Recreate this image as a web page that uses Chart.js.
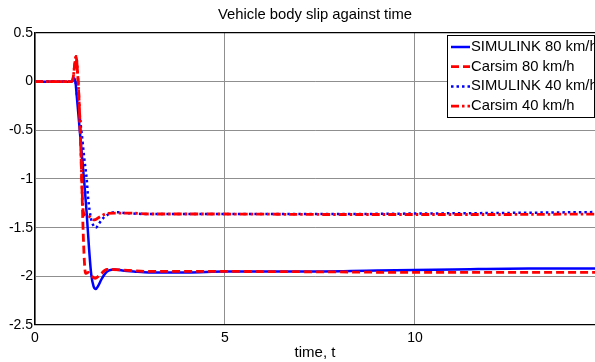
<!DOCTYPE html>
<html>
<head>
<meta charset="utf-8">
<script src="https://cdn.jsdelivr.net/npm/chart.js@4.4.1/dist/chart.umd.min.js"></script>
<style>
  html, body { margin: 0; padding: 0; background: #fff; }
  #wrap { width: 595px; height: 362px; }
</style>
</head>
<body>
<div id="wrap"><canvas id="slipChart"></canvas></div>
<script>
// values
const timeSim80 = [0, 0.95, 1.02, 1.05, 1.1, 1.2, 1.3, 1.36, 1.42, 1.48, 1.54, 1.6, 1.66, 1.75, 1.85, 1.95, 2.1, 2.3, 2.6, 3, 4, 5, 7, 9, 11, 13, 14.74];
const slipSim80 = [0, 0, 0.02, 0.03, -0.15, -0.6, -1.05, -1.35, -1.7, -1.98, -2.1, -2.13, -2.1, -2.03, -1.97, -1.94, -1.93, -1.94, -1.95, -1.96, -1.96, -1.95, -1.95, -1.94, -1.93, -1.92, -1.92];

const timeCar80 = [0, 0.95, 1.0, 1.05, 1.08, 1.12, 1.16, 1.2, 1.23, 1.26, 1.3, 1.33, 1.4, 1.48, 1.58, 1.7, 1.89, 2.05, 2.5, 3, 5, 8, 10, 12, 14.74];
const slipCar80 = [0, 0, 0.03, 0.19, 0.26, 0.1, -0.2, -0.6, -1.0, -1.45, -1.85, -1.97, -1.96, -1.99, -2.02, -1.99, -1.93, -1.93, -1.94, -1.95, -1.95, -1.955, -1.96, -1.96, -1.96];

const timeSim40 = [0, 0.95, 1.02, 1.05, 1.1, 1.22, 1.3, 1.36, 1.4, 1.47, 1.54, 1.6, 1.68, 1.8, 1.95, 2.1, 2.4, 3, 5, 8, 10, 12, 14.74];
const slipSim40 = [0, 0, 0.02, 0.03, -0.12, -0.5, -0.8, -1.0, -1.2, -1.4, -1.48, -1.5, -1.46, -1.4, -1.36, -1.34, -1.35, -1.36, -1.36, -1.36, -1.355, -1.35, -1.34];

const timeCar40 = [0, 0.95, 1.0, 1.05, 1.08, 1.12, 1.16, 1.2, 1.23, 1.27, 1.32, 1.45, 1.57, 1.7, 1.85, 2.1, 2.5, 3, 5, 8, 10, 12, 14.74];
const slipCar40 = [0, 0, 0.03, 0.19, 0.26, 0.1, -0.2, -0.6, -1.0, -1.33, -1.37, -1.39, -1.42, -1.39, -1.36, -1.35, -1.35, -1.36, -1.36, -1.365, -1.365, -1.365, -1.36];

const seriesNames = ["SIMULINK 80 km/h", "Carsim 80 km/h", "SIMULINK 40 km/h", "Carsim 40 km/h"];
const xTicks = [0, 5, 10];
const yTicks = [-2.5, -2, -1.5, -1, -0.5, 0, 0.5];

function toPoints(ts, vs) {
  return ts.map((t, i) => ({ x: t, y: vs[i] }));
}

// legend box inside the plot, top right, text clipped by its right border
const boxLegend = {
  id: "boxLegend",
  afterDraw(chart) {
    const ctx = chart.ctx;
    const left = 447, top = 35, bottom = 117, right = 594, rowH = 19.7;
    ctx.save();
    ctx.fillStyle = "#fff";
    ctx.fillRect(left, top, right - left, bottom - top);
    ctx.beginPath();
    ctx.rect(left, top, right - left, bottom - top);
    ctx.clip();
    ctx.font = "14.8px 'Liberation Sans', Arial, sans-serif";
    ctx.textBaseline = "middle";
    chart.data.datasets.forEach((ds, i) => {
      const y = top + 12 + i * rowH;
      ctx.strokeStyle = ds.borderColor;
      ctx.lineWidth = ds.borderWidth;
      ctx.setLineDash(ds.borderDash || []);
      ctx.beginPath();
      ctx.moveTo(left + 4, y);
      ctx.lineTo(left + 23, y);
      ctx.stroke();
      ctx.setLineDash([]);
      ctx.fillStyle = "#000";
      ctx.fillText(ds.label, left + 24, y);
    });
    ctx.restore();
    ctx.save();
    ctx.strokeStyle = "#000";
    ctx.lineWidth = 1;
    ctx.strokeRect(left + 0.5, top + 0.5, right - left, bottom - top);
    ctx.restore();
  }
};

const gridColor = "#8f8f8f";

new Chart(document.getElementById("slipChart"), {
  type: "line",
  data: {
    datasets: [
      { label: seriesNames[0], data: toPoints(timeSim80, slipSim80), borderColor: "#0000ff", borderWidth: 2.5, order: 4 },
      { label: seriesNames[1], data: toPoints(timeCar80, slipCar80), borderColor: "#ff0000", borderWidth: 2.8, borderDash: [8, 4], order: 3 },
      { label: seriesNames[2], data: toPoints(timeSim40, slipSim40), borderColor: "#0000ff", borderWidth: 2.5, borderDash: [2.5, 3], order: 2 },
      { label: seriesNames[3], data: toPoints(timeCar40, slipCar40), borderColor: "#ff0000", borderWidth: 2.8, borderDash: [8, 3, 2.5, 3], order: 1 }
    ]
  },
  options: {
    responsive: true,
    maintainAspectRatio: false,
    animation: false,
    layout: { padding: 0 },
    elements: {
      point: { radius: 0 },
      line: { cubicInterpolationMode: "monotone", fill: false }
    },
    plugins: {
      legend: { display: false },
      tooltip: { enabled: false },
      title: {
        display: true,
        fullSize: false,
        text: "Vehicle body slip against time",
        color: "#000",
        font: { family: "'Liberation Sans', Arial, sans-serif", size: 14.8, weight: "normal" },
        padding: { top: 6, bottom: 9.2 }
      }
    },
    scales: {
      x: {
        type: "linear",
        min: 0,
        max: 14.74,
        afterBuildTicks: s => { s.ticks = xTicks.map(v => ({ value: v })); },
        afterFit: s => { s.height = 37; },
        border: { display: true, color: "#000", width: 1.3 },
        grid: { color: gridColor, drawTicks: false, tickLength: 0 },
        ticks: {
          color: "#000",
          padding: 5,
          maxRotation: 0,
          font: { family: "'Liberation Sans', Arial, sans-serif", size: 14 },
          callback: v => String(v)
        },
        title: {
          display: true,
          text: "time, t",
          color: "#000",
          padding: 0,
          font: { family: "'Liberation Sans', Arial, sans-serif", size: 15 }
        }
      },
      y: {
        min: -2.5,
        max: 0.5,
        afterBuildTicks: s => { s.ticks = yTicks.map(v => ({ value: v })); },
        afterFit: s => { s.width = 35; },
        border: { display: true, color: "#000", width: 1.3 },
        grid: {
          color: c => (c.tick && c.tick.value === 0.5 ? "#000" : gridColor),
          lineWidth: c => (c.tick && c.tick.value === 0.5 ? 1.3 : 1),
          drawTicks: false,
          tickLength: 0
        },
        ticks: {
          color: "#000",
          padding: 2,
          font: { family: "'Liberation Sans', Arial, sans-serif", size: 14 },
          callback: v => String(Math.round(v * 10) / 10)
        }
      }
    }
  },
  plugins: [boxLegend]
});
</script>
</body>
</html>
